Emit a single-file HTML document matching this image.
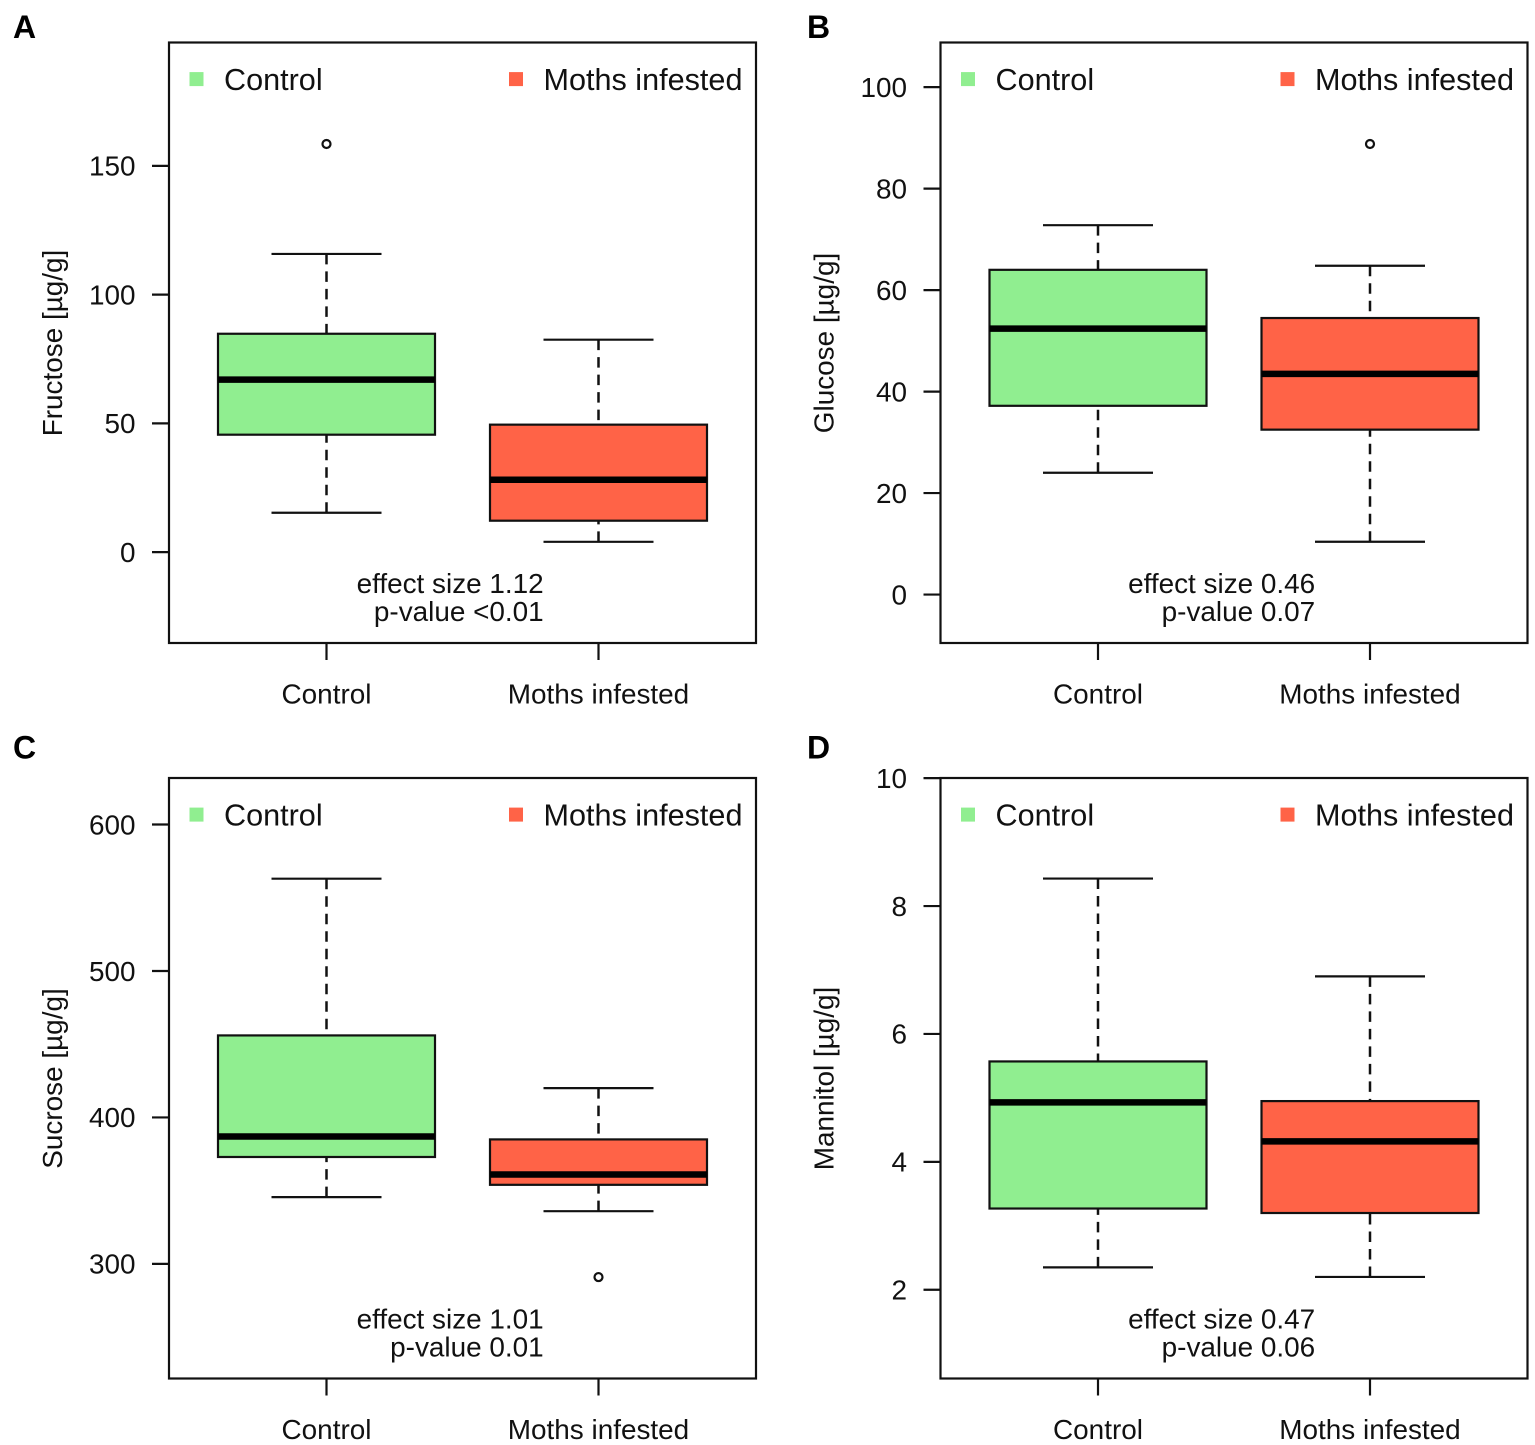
<!DOCTYPE html>
<html lang="en">
<head>
<meta charset="utf-8">
<title>Sugar concentrations in control and moth-infested samples</title>
<style>
html,body{margin:0;padding:0;background:#fff;}
#chart{display:block;width:1535px;height:1445px;font-family:"Liberation Sans",Arial,sans-serif;fill:#111;}
</style>
</head>
<body>
<svg id="chart" xmlns="http://www.w3.org/2000/svg" width="1535" height="1445" viewBox="0 0 1535 1445"></svg>
<script>
// Data arrays
const categories = ['Control', 'Moths infested'];
const panelLetters = ['A', 'B', 'C', 'D'];
const yTitles = ['Fructose [µg/g]', 'Glucose [µg/g]', 'Sucrose [µg/g]', 'Mannitol [µg/g]'];

const yTicksA = [0, 50, 100, 150];
const yTicksB = [0, 20, 40, 60, 80, 100];
const yTicksC = [300, 400, 500, 600];
const yTicksD = [2, 4, 6, 8, 10];

const yDomainA = [-35.1, 198.1];
const yDomainB = [-9.45, 108.9];
const yDomainC = [222.1, 632.1];
const yDomainD = [0.62, 10.01];

// [whisker low, q1, median, q3, whisker high]
const fructoseControl = [15.3, 45.6, 67, 84.8, 115.8];
const fructoseMoths = [4, 12.2, 28.1, 49.5, 82.5];
const glucoseControl = [24, 37.2, 52.4, 64, 72.8];
const glucoseMoths = [10.4, 32.5, 43.5, 54.5, 64.8];
const sucroseControl = [345.6, 373, 387, 456, 563];
const sucroseMoths = [336, 354, 361, 385, 420];
const mannitolControl = [2.35, 3.27, 4.93, 5.57, 8.43];
const mannitolMoths = [2.2, 3.2, 4.32, 4.95, 6.9];

const outliersA = [[158.5], []];
const outliersB = [[], [88.8]];
const outliersC = [[], [291]];
const outliersD = [[], []];

const effectLabels = ['effect size 1.12', 'effect size 0.46', 'effect size 1.01', 'effect size 0.47'];
const pLabels = ['p-value <0.01', 'p-value 0.07', 'p-value 0.01', 'p-value 0.06'];

const yTicksAll = [yTicksA, yTicksB, yTicksC, yTicksD];
const yDomains = [yDomainA, yDomainB, yDomainC, yDomainD];
const statsAll = [
  [fructoseControl, fructoseMoths],
  [glucoseControl, glucoseMoths],
  [sucroseControl, sucroseMoths],
  [mannitolControl, mannitolMoths]
];
const outliersAll = [outliersA, outliersB, outliersC, outliersD];

// Layout and drawing
const seriesColors = ['#90EE90', '#FF6347'];
const seriesKeys = ['control', 'moths-infested'];
const ink = '#111';
const labelSize = 27.9;
const legendSize = 30.6;
const lineWidth = 2.2;
const dashPattern = '10.5 7';
const svg = document.getElementById('chart');
const NS = 'http://www.w3.org/2000/svg';

function make(tag, attrs, parent) {
  const el = document.createElementNS(NS, tag);
  for (const k in attrs) el.setAttribute(k, attrs[k]);
  parent.appendChild(el);
  return el;
}

function drawPanel(i) {
  const col = i % 2, row = Math.floor(i / 2);
  const left = col ? 940.5 : 169;
  const right = left + 587;
  const top = row ? 778 : 42.5;
  const bottom = top + 600.5;
  const letterX = col ? 807 : 13;
  const letterY = row ? 758.5 : 38;
  const dom = yDomains[i];

  const yScale = v => bottom - (v - dom[0]) / (dom[1] - dom[0]) * (bottom - top) - 0.5;
  const xScale = c => left + 157.5 + c * 272;

  const g = make('g', {}, svg);
  
  

  const letter = make('text', {x: letterX, y: letterY, 'font-size': 32, 'font-weight': 'bold', fill: '#000'}, g);
  letter.textContent = panelLetters[i];
  
  

  // Boxes
  categories.forEach((cat, c) => {
    const s = statsAll[i][c];
    const cx = xScale(c);
    const bg = make('g', {}, g);
    
    

    const upper = make('line', {x1: cx, x2: cx, y1: yScale(s[4]), y2: yScale(s[3]), stroke: ink, 'stroke-width': 2.5, 'stroke-dasharray': dashPattern}, bg);
    
    

    const lower = make('line', {x1: cx, x2: cx, y1: yScale(s[0]), y2: yScale(s[1]), stroke: ink, 'stroke-width': 2.5, 'stroke-dasharray': dashPattern}, bg);
    
    

    const capHigh = make('line', {x1: cx - 55, x2: cx + 55, y1: yScale(s[4]), y2: yScale(s[4]), stroke: ink, 'stroke-width': lineWidth}, bg);
    
    

    const capLow = make('line', {x1: cx - 55, x2: cx + 55, y1: yScale(s[0]), y2: yScale(s[0]), stroke: ink, 'stroke-width': lineWidth}, bg);
    
    

    const rect = make('rect', {x: cx - 108.5, width: 217, y: yScale(s[3]), height: yScale(s[1]) - yScale(s[3]), fill: seriesColors[c], stroke: ink, 'stroke-width': lineWidth}, bg);
    
    

    const med = make('line', {x1: cx - 108.5, x2: cx + 108.5, y1: yScale(s[2]), y2: yScale(s[2]), stroke: '#000', 'stroke-width': 6.5}, bg);
    
    

    outliersAll[i][c].forEach(v => {
      const o = make('circle', {cx: cx, cy: yScale(v), r: 4, fill: '#fff', stroke: ink, 'stroke-width': 2.2}, bg);
      
      
    });

    // X axis
    const xt = make('line', {x1: cx, x2: cx, y1: bottom, y2: bottom + 17, stroke: ink, 'stroke-width': lineWidth}, g);
    
    

    const xl = make('text', {x: cx, y: bottom + 60.5, 'font-size': labelSize, 'text-anchor': 'middle'}, g);
    xl.textContent = cat;
    
    

    // Legend
    const legX = left + (c ? 340 : 20.5);
    const sq = make('rect', {x: legX, y: top + 29.6, width: 14, height: 14, fill: seriesColors[c]}, g);
    
    

    const lt = make('text', {x: left + (c ? 374.5 : 55), y: top + 47.3, 'font-size': legendSize}, g);
    lt.textContent = cat;
    
    
  });

  // Frame
  const frame = make('rect', {x: left, y: top, width: right - left, height: bottom - top, fill: 'none', stroke: ink, 'stroke-width': lineWidth}, g);
  
  

  // Y axis
  yTicksAll[i].forEach(t => {
    const yy = yScale(t);
    const tk = make('line', {x1: left - 17, x2: left, y1: yy, y2: yy, stroke: ink, 'stroke-width': lineWidth}, g);
    
    

    const tl = make('text', {x: left - 33.5, y: yy + 9.8, 'font-size': labelSize, 'text-anchor': 'end'}, g);
    tl.textContent = t;
    
    
  });

  const titleX = left - 107;
  const titleY = top + 300.5;
  const yt = make('text', {x: titleX, y: titleY, 'font-size': labelSize, 'text-anchor': 'middle', transform: 'rotate(-90 ' + titleX + ' ' + titleY + ')'}, g);
  yt.textContent = yTitles[i];
  
  

  // Annotation
  const e = make('text', {x: left + 374.7, y: top + 550.5, 'font-size': labelSize, 'text-anchor': 'end'}, g);
  e.textContent = effectLabels[i];
  
  

  const p = make('text', {x: left + 374.7, y: top + 578.5, 'font-size': labelSize, 'text-anchor': 'end'}, g);
  p.textContent = pLabels[i];
  
  
}

panelLetters.forEach((_, i) => drawPanel(i));
</script>
</body>
</html>
